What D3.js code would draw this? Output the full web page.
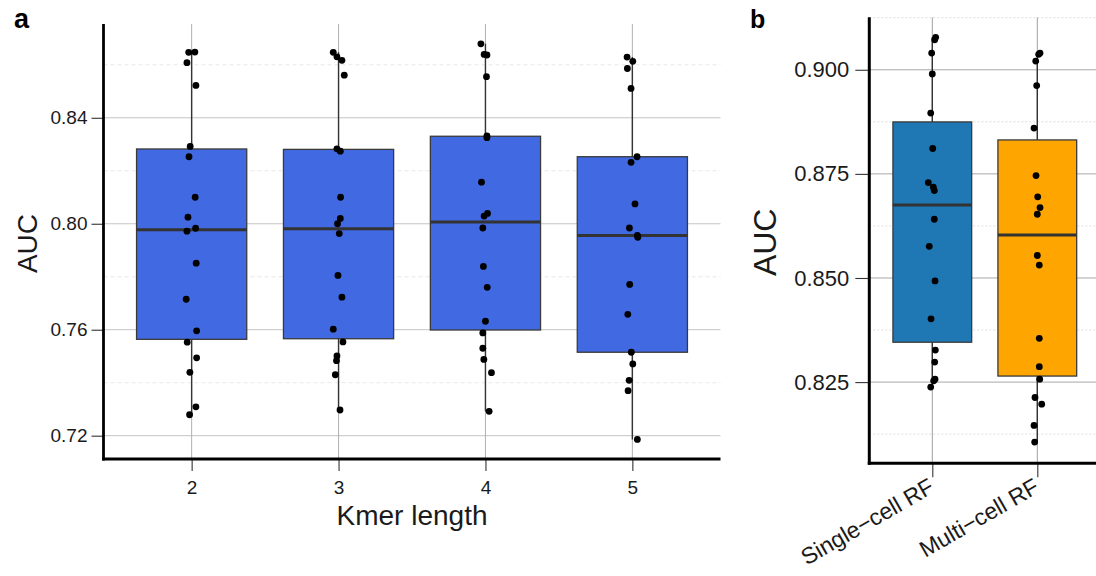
<!DOCTYPE html>
<html>
<head>
<meta charset="utf-8">
<script src="https://cdn.jsdelivr.net/npm/d3@7"></script>
<style>
  html, body { margin: 0; padding: 0; background: #fff; }
  svg { display: block; font-family: "Liberation Sans", Arial, Helvetica, sans-serif; }
</style>
</head>
<body>
<svg id="chart" width="1096" height="576"></svg>
<script>
// ---- Panel a: AUC per k-mer length ----
const kmerLengths = ["2", "3", "4", "5"];
const aucKmer2 = [0.8648, 0.8647, 0.8608, 0.8522, 0.8292, 0.8253, 0.8100, 0.8025, 0.7983, 0.7972,
                  0.7851, 0.7715, 0.7596, 0.7553, 0.7494, 0.7439, 0.7309, 0.7279];
const aucKmer3 = [0.8647, 0.8630, 0.8617, 0.8561, 0.8283, 0.8274, 0.8100, 0.8020, 0.8000, 0.7963,
                  0.7805, 0.7723, 0.7602, 0.7554, 0.7501, 0.7483, 0.7430, 0.7297];
const aucKmer4 = [0.8679, 0.8639, 0.8637, 0.8555, 0.8332, 0.8325, 0.8157, 0.8039, 0.8029, 0.7984,
                  0.7839, 0.7760, 0.7632, 0.7588, 0.7530, 0.7488, 0.7438, 0.7292];
const aucKmer5 = [0.8629, 0.8613, 0.8586, 0.8511, 0.8253, 0.8232, 0.8075, 0.7984, 0.7956, 0.7949,
                  0.7771, 0.7658, 0.7515, 0.7471, 0.7409, 0.7370, 0.7186];
// horizontal jitter of each point, in category-axis units
const jitterKmer2 = [0.022, -0.020, -0.032, 0.029, -0.010, -0.018, 0.024, -0.025, 0.027, -0.032,
                     0.031, -0.037, 0.034, -0.030, 0.034, -0.012, 0.029, -0.014];
const jitterKmer3 = [-0.036, -0.011, 0.023, 0.039, -0.011, 0.012, 0.014, 0.012, -0.007, 0.005,
                     -0.004, 0.023, -0.036, 0.030, -0.011, -0.014, -0.022, 0.010];
const jitterKmer4 = [-0.031, -0.009, 0.010, 0.007, 0.010, 0.010, -0.027, 0.014, -0.009, -0.018,
                     -0.014, 0.012, 0.000, -0.018, -0.018, -0.011, 0.041, 0.025];
const jitterKmer5 = [-0.036, 0.003, -0.034, -0.009, 0.032, -0.009, 0.018, -0.020, 0.034, 0.037,
                     -0.018, -0.031, -0.007, 0.003, -0.022, -0.029, 0.034];
const aucTicksA = [0.72, 0.76, 0.80, 0.84];
const aucMinorTicksA = [0.74, 0.78, 0.82, 0.86];
const aucLimitsA = [0.7112, 0.8754];

// ---- Panel b: single-cell vs multi-cell random forest ----
const methods = ["Single\u2212cell RF", "Multi\u2212cell RF"];
const aucSingleCell = [0.9078, 0.9072, 0.9040, 0.8990, 0.8896, 0.8811, 0.8729, 0.8718, 0.8710, 0.8641,
                       0.8576, 0.8493, 0.8402, 0.8327, 0.8298, 0.8257, 0.8253, 0.8238];
const aucMultiCell = [0.9040, 0.9037, 0.9021, 0.8962, 0.8860, 0.8746, 0.8695, 0.8669, 0.8653, 0.8554,
                      0.8531, 0.8355, 0.8287, 0.8257, 0.8213, 0.8197, 0.8146, 0.8106];
const jitterSingleCell = [0.032, 0.023, -0.006, 0.000, -0.015, 0.004, -0.038, 0.010, 0.019, 0.019,
                          -0.029, 0.026, -0.012, 0.029, 0.023, 0.026, 0.013, -0.015];
const jitterMultiCell = [0.026, 0.013, -0.015, -0.006, -0.031, -0.012, 0.004, 0.026, 0.000, 0.000,
                         0.019, 0.019, 0.019, 0.023, -0.022, 0.042, -0.031, -0.025];
const aucTicksB = [0.825, 0.850, 0.875, 0.900];
const aucMinorTicksB = [0.8125, 0.8375, 0.8625, 0.8875, 0.9125];
const aucLimitsB = [0.8055, 0.9126];

const svg = d3.select("#chart");

// Tukey box statistics (R type-7 quantiles, 1.5 IQR whiskers)
function boxStats(values) {
  const s = values.slice().sort(d3.ascending);
  const q1 = d3.quantileSorted(s, 0.25);
  const med = d3.quantileSorted(s, 0.5);
  const q3 = d3.quantileSorted(s, 0.75);
  const iqr = q3 - q1;
  const lo = d3.min(s.filter(v => v >= q1 - 1.5 * iqr));
  const hi = d3.max(s.filter(v => v <= q3 + 1.5 * iqr));
  return { q1, med, q3, lo, hi };
}

function drawPanel(cfg) {
  const g = svg.append("g");
  const x = d3.scalePoint().domain(cfg.categories).range([cfg.left, cfg.right]).padding(0.6);
  const y = d3.scaleLinear().domain(cfg.limits).range([cfg.bottom, cfg.top]);
  const step = x.step();
  const boxW = step * 0.75;

  // grid
  const grid = g.append("g");
  grid.selectAll("line.minor").data(cfg.minor).join("line")
    .attr("x1", cfg.left).attr("x2", cfg.right)
    .attr("y1", d => y(d)).attr("y2", d => y(d))
    .attr("stroke", cfg.minorColor).attr("stroke-width", 0.8)
    .attr("stroke-dasharray", cfg.minorDash);
  grid.selectAll("line.major").data(cfg.ticks).join("line")
    .attr("x1", cfg.left).attr("x2", cfg.right)
    .attr("y1", d => y(d)).attr("y2", d => y(d))
    .attr("stroke", cfg.majorColor).attr("stroke-width", 1);
  grid.selectAll("line.vert").data(cfg.categories).join("line")
    .attr("x1", d => x(d)).attr("x2", d => x(d))
    .attr("y1", cfg.top).attr("y2", cfg.bottom)
    .attr("stroke", cfg.vertColor).attr("stroke-width", 1);

  // boxes
  cfg.groups.forEach((grp, i) => {
    const cat = cfg.categories[i];
    const cx = x(cat);
    const st = boxStats(grp.values);
    const b = g.append("g");
    b.append("line").attr("x1", cx).attr("x2", cx)
      .attr("y1", y(st.hi)).attr("y2", y(st.lo))
      .attr("stroke", "#333").attr("stroke-width", 1.4);
    b.append("rect")
      .attr("x", cx - boxW / 2).attr("width", boxW)
      .attr("y", y(st.q3)).attr("height", y(st.q1) - y(st.q3))
      .attr("fill", grp.fill).attr("stroke", "#3a3a3a").attr("stroke-width", 1.3);
    b.append("line").attr("x1", cx - boxW / 2).attr("x2", cx + boxW / 2)
      .attr("y1", y(st.med)).attr("y2", y(st.med))
      .attr("stroke", "#333").attr("stroke-width", 3);
  });

  // points
  cfg.groups.forEach((grp, i) => {
    const cat = cfg.categories[i];
    g.append("g").selectAll("circle").data(grp.values).join("circle")
      .attr("cx", (d, j) => x(cat) + grp.jitter[j] * step)
      .attr("cy", d => y(d))
      .attr("r", 3.4)
      .attr("fill", "#000");
  });

  // y axis ticks + labels
  const yAxis = d3.axisLeft(y).tickValues(cfg.ticks).tickFormat(d3.format(cfg.fmt))
    .tickSize(cfg.tickLen).tickPadding(cfg.yPad);
  const ya = g.append("g").attr("transform", `translate(${cfg.left},0)`).call(yAxis);
  ya.select(".domain").remove();
  ya.attr("font-family", null).attr("font-size", null);
  ya.selectAll(".tick line").attr("stroke", "#333").attr("stroke-width", 1.1);
  ya.selectAll(".tick text").attr("font-size", cfg.yFont).attr("fill", "#1a1a1a");

  // x axis ticks
  const xAxis = d3.axisBottom(x).tickSize(cfg.tickLen).tickPadding(cfg.xPad);
  const xa = g.append("g").attr("transform", `translate(0,${cfg.bottom})`).call(xAxis);
  xa.select(".domain").remove();
  xa.attr("font-family", null).attr("font-size", null);
  xa.selectAll(".tick line").attr("stroke", "#333").attr("stroke-width", 1.1);
  if (cfg.rotateX) {
    xa.selectAll(".tick text")
      .attr("font-size", cfg.xFont).attr("fill", "#1a1a1a")
      .attr("text-anchor", "end").attr("dy", null)
      .attr("transform", `translate(${cfg.rotDx},${cfg.rotDy}) rotate(-30)`)
      .attr("y", 0).attr("x", 0);
  } else {
    xa.selectAll(".tick text").attr("font-size", cfg.xFont).attr("fill", "#1a1a1a");
  }

  // axis lines
  g.append("line").attr("x1", cfg.left).attr("x2", cfg.left)
    .attr("y1", cfg.top).attr("y2", cfg.bottom + cfg.axisW / 2)
    .attr("stroke", "#000").attr("stroke-width", cfg.axisW);
  g.append("line").attr("x1", cfg.left - cfg.axisW / 2).attr("x2", cfg.right)
    .attr("y1", cfg.bottom).attr("y2", cfg.bottom)
    .attr("stroke", "#000").attr("stroke-width", cfg.axisW);

  // titles
  g.append("text")
    .attr("transform", `translate(${cfg.yTitleX},${(cfg.top + cfg.bottom) / 2 + 2}) rotate(-90)`)
    .attr("text-anchor", "middle").attr("font-size", cfg.yTitleFont).attr("fill", "#1a1a1a")
    .text("AUC");
  if (cfg.xTitle) {
    g.append("text").attr("x", (cfg.left + cfg.right) / 2).attr("y", cfg.xTitleY)
      .attr("text-anchor", "middle").attr("font-size", cfg.xTitleFont).attr("fill", "#1a1a1a")
      .text(cfg.xTitle);
  }
  g.append("text").attr("x", cfg.tagX).attr("y", cfg.tagY)
    .attr("font-size", cfg.tagFont).attr("font-weight", "bold").attr("fill", "#000")
    .text(cfg.tag);
}

drawPanel({
  tag: "a", tagX: 14, tagY: 28, tagFont: 27,
  categories: kmerLengths,
  groups: [
    { values: aucKmer2, jitter: jitterKmer2, fill: "#4169E1" },
    { values: aucKmer3, jitter: jitterKmer3, fill: "#4169E1" },
    { values: aucKmer4, jitter: jitterKmer4, fill: "#4169E1" },
    { values: aucKmer5, jitter: jitterKmer5, fill: "#4169E1" }
  ],
  left: 103.5, right: 720.5, top: 24, bottom: 459,
  limits: aucLimitsA, ticks: aucTicksA, minor: aucMinorTicksA, fmt: ".2f",
  majorColor: "#c4c4c4", minorColor: "#e2e2e2", minorDash: "4,3", vertColor: "#b0b0b0",
  tickLen: 12, yPad: 4, xPad: 10, yFont: 19, xFont: 19,
  axisW: 2.8,
  yTitleX: 37, yTitleFont: 28,
  xTitle: "Kmer length", xTitleY: 525, xTitleFont: 28
});

drawPanel({
  tag: "b", tagX: 750, tagY: 28, tagFont: 25,
  categories: methods,
  groups: [
    { values: aucSingleCell, jitter: jitterSingleCell, fill: "#1F77B4" },
    { values: aucMultiCell, jitter: jitterMultiCell, fill: "#FFA500" }
  ],
  left: 869.3, right: 1100.3, top: 17.3, bottom: 463.3,
  limits: aucLimitsB, ticks: aucTicksB, minor: aucMinorTicksB, fmt: ".3f",
  majorColor: "#a8a8a8", minorColor: "#d4d4d4", minorDash: "2,2", vertColor: "#a0a0a0",
  tickLen: 14, yPad: 6, xPad: 6, yFont: 22, xFont: 23,
  rotateX: true, rotDx: 3, rotDy: 28,
  axisW: 3,
  yTitleX: 776, yTitleFont: 32
});
</script>
</body>
</html>
